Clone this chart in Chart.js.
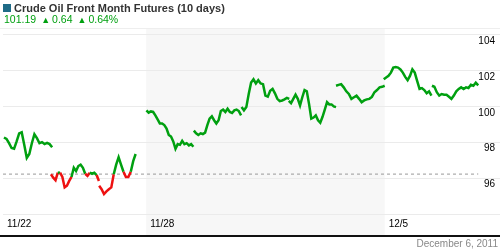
<!DOCTYPE html>
<html>
<head>
<meta charset="utf-8">
<script src="https://cdn.jsdelivr.net/npm/chart.js@4.4.0/dist/chart.umd.min.js"></script>
<style>
  html, body { margin: 0; padding: 0; background: #fff; }
  #wrap { position: relative; width: 500px; height: 250px; overflow: hidden; font-family: "Liberation Sans", Arial, sans-serif; }
  #c { position: absolute; left: 0; top: 0; }
  .title { position: absolute; left: 3px; top: 2px; font-size: 11px; font-weight: bold; color: #333; white-space: nowrap; }
  .title .sq { display: inline-block; width: 8px; height: 8px; background: #1f6b87; margin-right: 3px; vertical-align: 0px; }
  .quote { position: absolute; left: 4px; top: 13px; font-size: 10.5px; color: #00a010; white-space: nowrap; }
  .quote .up { font-size: 9px; margin: 0 2px 0 5px; vertical-align: 0px; }
  .date { position: absolute; right: 2px; top: 238px; font-size: 10px; color: #888; }
</style>
</head>
<body>
<div id="wrap">
  <canvas id="c" width="500" height="250"></canvas>
  <div class="title"><span class="sq"></span>Crude Oil Front Month Futures (10 days)</div>
  <div class="quote">101.19<span class="up">▲</span>0.64<span class="up">▲</span>0.64%</div>
  <div class="date">December 6, 2011</div>
</div>
<script>
(function () {
    "use strict";

    // reference (dotted) level
    const refLevel = 96.25;

    // x axis: trading days, labels on week starts
    const xTickDays = [0, 3, 8];
    const xTickLabels = ["11/22", "11/28", "12/5"];
    const yTicks = [94, 96, 98, 100, 102, 104];

    // session start / end, in trading-day units
    const sessionStart = [0.02, 1.005, 2.015, 3.006, 4.0, 5.0, 5.99, 6.98, 7.98, 8.99];
    const sessionEnd   = [1.03, 2.01, 2.78, 3.99, 4.99, 6.0, 6.98, 8.0, 8.98, 9.96];

    // intraday prices per session
    const d1122 = [98.29, 98.21, 97.97, 97.70, 97.66, 98.07, 98.52, 98.58, 97.88, 97.15, 97.37, 97.97, 98.47, 98.25, 97.97, 98.03, 97.92, 97.99, 97.92, 97.74];
    const d1123 = [96.24, 96.05, 95.91, 96.33, 96.33, 96.09, 95.51, 95.60, 95.87, 96.09, 96.60, 96.42, 96.70, 96.78, 96.60, 96.27, 96.15, 96.33, 96.27, 96.33, 96.20, 95.87];
    const d1125 = [95.60, 95.41, 95.14, 95.29, 95.41, 95.51, 96.24, 96.78, 97.19, 96.78, 96.38, 96.09, 96.09, 96.38, 96.97, 97.37];
    const d1128 = [99.80, 99.67, 99.74, 99.71, 99.52, 99.30, 99.07, 99.07, 98.98, 98.79, 98.43, 98.34, 98.07, 97.66, 97.92, 97.88, 98.10, 97.92, 97.97, 97.85, 97.92, 97.77];
    const d1129 = [98.67, 98.52, 98.43, 98.52, 98.48, 98.56, 98.98, 99.34, 99.47, 99.25, 99.07, 99.25, 99.76, 99.84, 99.71, 99.89, 99.71, 99.65, 99.80, 99.84, 99.76, 99.52];
    const d1130 = [99.98, 99.80, 99.98, 100.71, 101.35, 101.53, 101.30, 101.48, 101.30, 101.26, 100.62, 100.56, 100.89, 100.99, 100.75, 100.44, 100.31, 100.35, 100.41, 100.49, 100.44];
    const d1201 = [100.33, 100.20, 100.44, 100.67, 100.44, 100.07, 100.53, 100.93, 100.86, 100.16, 99.34, 99.40, 99.52, 99.25, 99.11, 99.44, 99.84, 100.26, 100.13, 100.13, 100.02, 99.98];
    const d1202 = [101.17, 101.22, 101.26, 101.08, 100.86, 100.71, 100.44, 100.53, 100.62, 100.44, 100.25, 100.35, 100.41, 100.44, 100.55, 100.81, 100.93, 101.08, 101.11, 101.17];
    const d1205 = [101.53, 101.63, 101.72, 101.90, 102.18, 102.21, 102.18, 102.08, 101.90, 101.66, 101.48, 101.72, 102.08, 101.90, 101.44, 100.99, 101.04, 100.93, 100.75, 100.86, 100.62];
    const d1206 = [101.17, 101.11, 100.81, 100.62, 100.71, 100.67, 100.67, 100.56, 100.44, 100.62, 100.86, 100.99, 101.08, 100.99, 101.08, 101.04, 101.22, 101.17, 101.34, 101.19];

    const sessions = [d1122, d1123, d1125, d1128, d1129, d1130, d1201, d1202, d1205, d1206];

    // build the point list, null between sessions so the line breaks
    let points = [];
    sessions.forEach(function (vals, s) {
        const a = sessionStart[s], b = sessionEnd[s];
        vals.forEach(function (v, i) {
            points.push({ x: a + (b - a) * i / (vals.length - 1), y: v });
        });
        if (s < sessions.length - 1) {
            points.push({ x: (b + sessionStart[s + 1]) / 2, y: null });
        }
    });

    const green = "#00a010";
    const red = "#ee1111";

    const bgPlugin = {
        id: "bg",
        beforeDraw: function (chart) {
            const ctx = chart.ctx, area = chart.chartArea, xs = chart.scales.x;
            ctx.save();
            // shaded week
            ctx.fillStyle = "#f7f7f7";
            const x0 = xs.getPixelForValue(xTickDays[1]), x1 = xs.getPixelForValue(xTickDays[2]);
            ctx.fillRect(x0, area.top, x1 - x0, xs.bottom + 2 - area.top);
            // top rule
            ctx.fillStyle = "#eeeeee";
            ctx.fillRect(0, area.top - 1, chart.width, 1);
            ctx.restore();
        },
        afterDraw: function (chart) {
            const ctx = chart.ctx, xs = chart.scales.x;
            ctx.save();
            ctx.fillStyle = "#111";
            ctx.fillRect(0, xs.bottom + 2, chart.width, 2);
            ctx.restore();
        }
    };

    new Chart(document.getElementById("c"), {
        type: "line",
        data: {
            datasets: [{
                data: points,
                borderColor: green,
                borderWidth: 2.5,
                pointRadius: 0,
                spanGaps: false,
                segment: {
                    borderColor: function (c) {
                        return (c.p0.parsed.y + c.p1.parsed.y) / 2 < refLevel ? red : green;
                    }
                },
                order: 0
            }, {
                data: [{ x: 0, y: refLevel }, { x: sessionEnd[sessionEnd.length - 1], y: refLevel }],
                borderColor: "#999",
                borderWidth: 1,
                borderDash: [3, 3],
                pointRadius: 0,
                order: 1
            }]
        },
        options: {
            responsive: false,
            animation: false,
            layout: { padding: { top: 29, bottom: 17, left: 0, right: 0 } },
            plugins: { legend: { display: false }, tooltip: { enabled: false } },
            scales: {
                x: {
                    type: "linear",
                    min: 0,
                    max: 500 / 48,
                    grid: { display: false, drawTicks: false },
                    border: { display: false },
                    afterBuildTicks: function (s) { s.ticks = xTickDays.map(function (v) { return { value: v }; }); },
                    ticks: {
                        autoSkip: false,
                        maxRotation: 0,
                        align: "start",
                        labelOffset: 4,
                        padding: 3,
                        color: "#000",
                        font: { family: "'Liberation Sans', Arial", size: 10 },
                        callback: function (v) { return xTickLabels[xTickDays.indexOf(v)]; }
                    }
                },
                y: {
                    position: "right",
                    min: 93.973,
                    max: 104.329,
                    grid: { color: "#ebebeb", drawTicks: false },
                    border: { display: false },
                    afterBuildTicks: function (s) { s.ticks = yTicks.map(function (v) { return { value: v }; }); },
                    ticks: {
                        mirror: true,
                        padding: -5,
                        labelOffset: 6,
                        color: "#000",
                        font: { family: "'Liberation Sans', Arial", size: 10 },
                        callback: function (v) { return v === yTicks[0] ? "" : v; }
                    }
                }
            }
        },
        plugins: [bgPlugin]
    });
})();
</script>
</body>
</html>
